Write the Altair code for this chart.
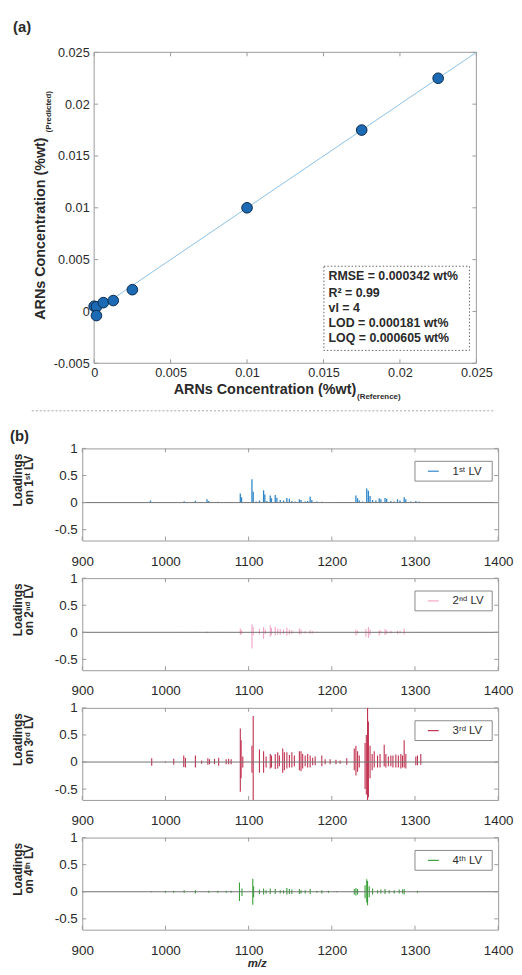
import altair as alt
import pandas as pd

FONT = "Liberation Sans"
FRAME = "#9b9b9b"
INK = "#2a2a2a"
LBL = "'' + datum.value"

# ---------------- (a) calibration data ----------------
ref_conc = [0.0, 0.00015, 0.00015, 0.0006, 0.00125, 0.0025, 0.01, 0.0175, 0.0225]
pred_conc = [0.0005, 0.00045, -0.0004, 0.00085, 0.00105, 0.0021, 0.01, 0.0175, 0.0225]
fit_ref = [0.0, 0.025]
fit_pred = [0.0, 0.025]
a_xticks = [0, 0.005, 0.01, 0.015, 0.02, 0.025]
a_yticks = [-0.005, 0, 0.005, 0.01, 0.015, 0.02, 0.025]
stats_text = ["RMSE = 0.000342 wt%", "R² = 0.99", "vl = 4",
              "LOD = 0.000181 wt%", "LOQ = 0.000605 wt%"]

# ---------------- (b) loadings data ----------------
mz_ticks = [900, 1000, 1100, 1200, 1300, 1400]
loading_ticks = [-0.5, 0, 0.5, 1]
lv_names = ["1ˢᵗ LV", "2ⁿᵈ LV", "3ʳᵈ LV", "4ᵗʰ LV"]
lv_titles = ["on 1ˢᵗ LV", "on 2ⁿᵈ LV", "on 3ʳᵈ LV", "on 4ᵗʰ LV"]
lv_colors = ["#2f86c9", "#f5a3c7", "#c0304f", "#38a038"]

lv1_mz = [
    982, 990, 998, 1005, 1012, 1022.5, 1026, 1036, 1043, 1050,
    1052, 1058, 1063, 1068, 1073, 1080, 1090, 1091.5, 1097, 1104,
    1105.5, 1109, 1113, 1118, 1119.5, 1122, 1126, 1127.5, 1132, 1134,
    1138, 1142, 1146, 1149, 1152, 1156, 1161, 1163, 1168, 1171,
    1174, 1176, 1182, 1188, 1196, 1206, 1212, 1218, 1224, 1229,
    1231, 1233, 1237, 1242, 1244, 1246, 1249, 1253, 1257, 1259,
    1264, 1266, 1271, 1275, 1279, 1282, 1287, 1289, 1295, 1301,
    1305]
lv1_hi = [
    0.04, 0.005, 0.005, 0.005, 0.005, 0.025, 0.01, 0.035, 0.01, 0.06,
    0.03, 0.01, 0.015, 0.008, 0.01, 0.008, 0.17, 0.1, 0.01, 0.43,
    0.2, 0.02, 0.04, 0.23, 0.15, 0.03, 0.13, 0.08, 0.14, 0.09,
    0.05, 0.04, 0.085, 0.07, 0.03, 0.02, 0.06, 0.05, 0.02, 0.03,
    0.11, 0.05, 0.02, 0.015, 0.01, 0.01, 0.008, 0.01, 0.01, 0.13,
    0.08, 0.04, 0.02, 0.26, 0.22, 0.12, 0.05, 0.04, 0.08, 0.06,
    0.085, 0.07, 0.03, 0.02, 0.06, 0.04, 0.1, 0.06, 0.02, 0.03,
    0.02]

lv2_mz = [
    1022, 1036, 1049.5, 1063, 1090, 1091.5, 1104, 1105.5, 1113, 1118,
    1120, 1126, 1127.5, 1132, 1135, 1138, 1142, 1146, 1149, 1152,
    1161, 1163, 1168, 1174, 1177, 1182, 1229, 1231, 1241, 1244,
    1246, 1257, 1259, 1264, 1266, 1271, 1279, 1282, 1287, 1304]
lv2_hi = [
    0.01, 0.01, 0.015, 0.01, 0.07, 0.04, 0.15, 0.1, 0.06, 0.1,
    0.05, 0.13, 0.08, 0.1, 0.07, 0.06, 0.05, 0.09, 0.05, 0.04,
    0.07, 0.05, 0.02, 0.04, 0.02, 0.01, 0.05, 0.03, 0.06, 0.1,
    0.05, 0.04, 0.03, 0.06, 0.04, 0.03, 0.03, 0.03, 0.07, 0.01]
lv2_lo = [
    -0.01, -0.01, -0.015, -0.01, -0.05, -0.03, -0.3, -0.06, -0.04, -0.12,
    -0.03, -0.08, -0.05, -0.06, -0.04, -0.05, -0.03, -0.06, -0.04, -0.03,
    -0.04, -0.03, -0.02, -0.03, -0.02, -0.01, -0.06, -0.02, -0.08, -0.1,
    -0.05, -0.06, -0.02, -0.05, -0.03, -0.02, -0.03, -0.02, -0.04, -0.01]

lv3_mz = [
    983.5, 1000, 1010, 1022, 1024, 1036, 1043.5, 1051, 1053, 1059,
    1064, 1073, 1076, 1079, 1090, 1091, 1093, 1104, 1105.5, 1113,
    1118, 1121, 1126, 1127.5, 1132, 1135, 1137, 1141, 1143, 1146,
    1149, 1152, 1155, 1161, 1163, 1165, 1168, 1171, 1174, 1177,
    1180, 1188, 1192, 1198, 1205, 1210, 1218, 1227, 1229, 1231,
    1233, 1240, 1241.5, 1243, 1244, 1246, 1248.5, 1251, 1255, 1258,
    1263, 1265, 1268, 1271, 1273.5, 1277, 1280, 1283, 1285, 1287,
    1289, 1301, 1303, 1307]
lv3_hi = [
    0.07, 0.01, 0.06, 0.12, 0.08, 0.12, 0.03, 0.07, 0.05, 0.06,
    0.08, 0.05, 0.06, 0.05, 0.62, 0.4, 0.1, 0.3, 0.85, 0.23,
    0.2, 0.1, 0.15, 0.12, 0.15, 0.18, 0.12, 0.25, 0.18, 0.18,
    0.13, 0.18, 0.12, 0.2, 0.2, 0.15, 0.12, 0.15, 0.12, 0.08,
    0.1, 0.12, 0.05, 0.05, 0.04, 0.03, 0.07, 0.25, 0.3, 0.2,
    0.12, 0.35, 0.5, 1.0, 0.75, 0.3, 0.15, 0.2, 0.12, 0.15,
    0.32, 0.15, 0.1, 0.12, 0.12, 0.14, 0.12, 0.15, 0.12, 0.4,
    0.15, 0.1, 0.12, 0.15]
lv3_lo = [
    -0.07, -0.01, -0.05, -0.09, -0.1, -0.1, -0.03, -0.05, -0.04, -0.04,
    -0.07, -0.04, -0.04, -0.04, -0.55, -0.3, -0.1, -0.2, -0.75, -0.2,
    -0.2, -0.1, -0.12, -0.1, -0.13, -0.12, -0.08, -0.2, -0.15, -0.12,
    -0.1, -0.1, -0.08, -0.15, -0.17, -0.12, -0.08, -0.1, -0.1, -0.06,
    -0.06, -0.08, -0.04, -0.04, -0.04, -0.03, -0.05, -0.15, -0.25, -0.18,
    -0.1, -0.5, -0.6, -0.75, -0.65, -0.3, -0.15, -0.1, -0.1, -0.1,
    -0.08, -0.1, -0.08, -0.08, -0.1, -0.1, -0.1, -0.12, -0.1, -0.1,
    -0.12, -0.06, -0.06, -0.05]

lv4_mz = [
    983, 1000, 1010, 1022.5, 1036, 1052, 1063, 1073, 1079, 1089,
    1092, 1105, 1106, 1113, 1118, 1121, 1126, 1132, 1138, 1142,
    1146, 1149, 1152, 1161, 1163, 1168, 1174, 1182, 1188, 1196,
    1206, 1227, 1229, 1231, 1240, 1242, 1243, 1245, 1249, 1255,
    1259, 1264, 1269, 1275, 1281, 1285, 1287, 1303]
lv4_hi = [
    0.01, 0.02, 0.02, 0.03, 0.03, 0.02, 0.02, 0.02, 0.02, 0.17,
    0.06, 0.24, 0.1, 0.04, 0.06, 0.03, 0.06, 0.05, 0.03, 0.03,
    0.07, 0.05, 0.04, 0.05, 0.03, 0.03, 0.05, 0.02, 0.03, 0.02,
    0.01, 0.05, 0.07, 0.05, 0.12, 0.23, 0.2, 0.1, 0.06, 0.03,
    0.04, 0.05, 0.03, 0.03, 0.04, 0.04, 0.05, 0.02]
lv4_lo = [
    -0.01, -0.02, -0.02, -0.02, -0.03, -0.02, -0.02, -0.02, -0.02, -0.17,
    -0.08, -0.24, -0.1, -0.04, -0.05, -0.03, -0.04, -0.04, -0.03, -0.03,
    -0.05, -0.04, -0.04, -0.04, -0.03, -0.03, -0.04, -0.02, -0.03, -0.02,
    -0.01, -0.05, -0.07, -0.05, -0.12, -0.2, -0.25, -0.1, -0.05, -0.03,
    -0.03, -0.04, -0.03, -0.03, -0.03, -0.03, -0.05, -0.02]

# ---------------- layout ----------------
W = 420          # panel group width
HA = 314         # calibration plot height
HB = 93          # loadings plot height
XA0, XA1 = 12, 398   # calibration plot frame inside the group


def label(text, x, y, size, weight="bold", angle=0, align="left",
          baseline="middle", style="normal", color=INK):
    return alt.Chart(pd.DataFrame({"t": [text]})).mark_text(
        font=FONT, fontSize=size, fontWeight=weight, fontStyle=style,
        angle=angle, align=align, baseline=baseline, color=color
    ).encode(text="t:N", x=alt.value(x), y=alt.value(y))


def seg(x1, x2, y1, y2, color, width=1.0, dash=None, opacity=1.0):
    kw = dict(color=color, strokeWidth=width, opacity=opacity)
    if dash:
        kw["strokeDash"] = dash
    return alt.Chart(pd.DataFrame({"t": [0]})).mark_rule(**kw).encode(
        x=alt.value(x1), x2=alt.value(x2), y=alt.value(y1), y2=alt.value(y2))


def box(x1, x2, y1, y2, stroke, fill="white", fill_opacity=1.0, dash=None, width=1.0):
    kw = dict(fill=fill, fillOpacity=fill_opacity, stroke=stroke, strokeWidth=width)
    if dash:
        kw["strokeDash"] = dash
    return alt.Chart(pd.DataFrame({"t": [0]})).mark_rect(**kw).encode(
        x=alt.value(x1), x2=alt.value(x2), y=alt.value(y1), y2=alt.value(y2))


def axis(values, size, pad, offset=0):
    return alt.Axis(values=values, labelExpr=LBL, tickSize=0, domain=False, grid=False,
                    title=None, labelFont=FONT, labelFontSize=size, labelColor=INK,
                    labelPadding=pad, labelFlush=False, labelOverlap=False, offset=offset)


# ---------------- panel (a) ----------------
xa = alt.Scale(domain=[0, 0.025], range=[XA0, XA1], nice=False, zero=False)
ya = alt.Scale(domain=[-0.005, 0.025], nice=False, zero=False)
xa_ax = axis(a_xticks, 12.8, 3.5)
ya_ax = axis(a_yticks, 12.8, 5, offset=-XA0)

pts = pd.DataFrame({"ref": ref_conc, "pred": pred_conc})
fit = pd.DataFrame({"ref": fit_ref, "pred": fit_pred})
axt = alt.Chart(pd.DataFrame({"v": a_xticks}))
ayt = alt.Chart(pd.DataFrame({"v": a_yticks}))

a_layers = [
    box(XA0, XA1, 0, HA, FRAME, fill_opacity=0),
    axt.mark_rule(color=FRAME).encode(x=alt.X("v:Q", scale=xa, axis=xa_ax), y=alt.value(0), y2=alt.value(4)),
    axt.mark_rule(color=FRAME).encode(x=alt.X("v:Q", scale=xa, axis=xa_ax), y=alt.value(HA - 4), y2=alt.value(HA)),
    ayt.mark_rule(color=FRAME).encode(y=alt.Y("v:Q", scale=ya, axis=ya_ax), x=alt.value(XA0), x2=alt.value(XA0 + 4)),
    ayt.mark_rule(color=FRAME).encode(y=alt.Y("v:Q", scale=ya, axis=ya_ax), x=alt.value(XA1 - 4), x2=alt.value(XA1)),
    alt.Chart(fit).mark_line(color="#8dc0e5", strokeWidth=1, clip=True).encode(
        x=alt.X("ref:Q", scale=xa, axis=xa_ax), y=alt.Y("pred:Q", scale=ya, axis=ya_ax)),
    alt.Chart(pts).mark_point(filled=True, size=115, fill="#1b6ab3", stroke="#0b2a4a",
                              strokeWidth=1, opacity=1).encode(
        x=alt.X("ref:Q", scale=xa, axis=xa_ax), y=alt.Y("pred:Q", scale=ya, axis=ya_ax)),
    box(244, 391, 216, 301, "#555555", dash=[1.5, 2], width=0.9),
]
for t, yy in zip(stats_text, [226, 243, 258.5, 273.5, 288.5]):
    a_layers.append(label(t, 248.7, yy, 12.5))
a_layers += [
    label("ARNs Concentration (%wt)", -42, 178, 14.5, angle=270, align="center"),
    label("(Predicted)", -34, 60, 8, angle=270, align="center"),
    label("ARNs Concentration (%wt)", 184.5, 341, 14.5, align="center"),
    label("(Reference)", 299.5, 348, 8, align="center"),
    label("(a)", -70, -25.5, 15),
    seg(-51, 417, 362, 362, "#a8a8a8", 1, dash=[2, 2]),
    seg(-74.5, -74.5, -39.5, -39.5, "#ffffff", 1, opacity=0),
]
panel_a = alt.layer(*a_layers).properties(
    width=W, height=HA, view=alt.ViewBackground(stroke=None))

spacer = seg(0, 1, 0, 0, "#ffffff", opacity=0).properties(
    width=W, height=10, view=alt.ViewBackground(stroke=None))


# ---------------- panels (b) ----------------
def lv_panel(k, mz, hi, lo):
    xs = alt.Scale(domain=[900, 1400], nice=False, zero=False)
    ys = alt.Scale(domain=[-0.7, 1], nice=False, zero=False)
    xax = axis(mz_ticks, 13.5, 14)
    yax = axis(loading_ticks, 13.5, 5)
    color = lv_colors[k]
    data = {"mz": mz, "hi": hi}
    if lo is not None:
        data["lo"] = lo
    df = pd.DataFrame(data)
    base = alt.Chart(df).mark_rule(color=color, strokeWidth=1.3 if k == 0 else 1.1, clip=True)
    xenc = alt.X("mz:Q", scale=xs, axis=xax)
    if lo is None:
        spec = base.encode(x=xenc, y=alt.Y("hi:Q", scale=ys, axis=yax), y2=alt.datum(0))
    else:
        spec = base.encode(x=xenc, y=alt.Y("lo:Q", scale=ys, axis=yax), y2="hi:Q")
    zero = alt.Chart(pd.DataFrame({"z": [0]})).mark_rule(color="#707070", strokeWidth=1).encode(
        y=alt.Y("z:Q", scale=ys, axis=yax))
    xt = alt.Chart(pd.DataFrame({"v": mz_ticks}))
    yt = alt.Chart(pd.DataFrame({"v": loading_ticks}))
    layers = [
        spec,
        zero,
        xt.mark_rule(color=FRAME).encode(x=alt.X("v:Q", scale=xs, axis=xax), y=alt.value(0), y2=alt.value(4)),
        xt.mark_rule(color=FRAME).encode(x=alt.X("v:Q", scale=xs, axis=xax), y=alt.value(HB - 4), y2=alt.value(HB)),
        yt.mark_rule(color=FRAME).encode(y=alt.Y("v:Q", scale=ys, axis=yax), x=alt.value(0), x2=alt.value(4)),
        yt.mark_rule(color=FRAME).encode(y=alt.Y("v:Q", scale=ys, axis=yax), x=alt.value(W - 4), x2=alt.value(W)),
        box(336, 414, 13, 33, "#8a8a8a"),
        seg(349, 360, 23, 23, color, 1.2),
        label(lv_names[k], 374, 23.5, 11.5, weight="normal"),
        label("Loadings", -65, 32, 12, angle=270, align="center"),
        label(lv_titles[k], -54, 32, 12, angle=270, align="center"),
    ]
    if k == 0:
        layers.append(label("(b)", -73, -12, 15))
    if k == 3:
        layers.append(label("m/z", 167, 127.5, 11.5, style="italic"))
    return alt.layer(*layers).properties(width=W, height=HB)


b1 = lv_panel(0, lv1_mz, lv1_hi, None)
b2 = lv_panel(1, lv2_mz, lv2_hi, lv2_lo)
b3 = lv_panel(2, lv3_mz, lv3_hi, lv3_lo)
b4 = lv_panel(3, lv4_mz, lv4_hi, lv4_lo)

chart = alt.vconcat(
    panel_a, spacer, b1, b2, b3, b4, spacing=38, bounds="flush", padding=0
).resolve_scale(
    x="independent", y="independent"
).configure(
    font=FONT
).configure_view(
    stroke=FRAME, strokeWidth=1
)

chart.save("out.html", embed_options={"renderer": "svg", "actions": False})
